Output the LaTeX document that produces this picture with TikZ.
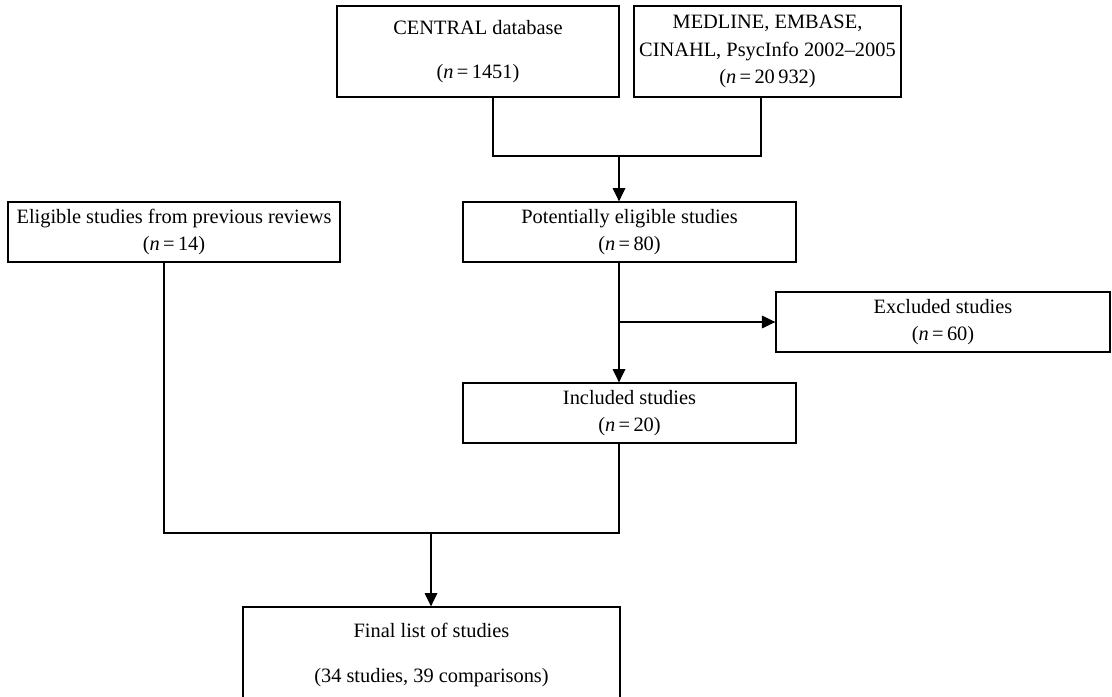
\documentclass[tikz,border=0pt]{standalone}
\usepackage{fontspec}
\setmainfont{Liberation Serif}
\usetikzlibrary{arrows.meta}
\tikzset{
	box/.style={draw,inner sep=0pt,align=center,font=\fontsize{14.5}{19.5}\selectfont},
}
\newcommand{\ncount}[1]{(\textit{n}\,=\,#1)}
\begin{document}
\begin{tikzpicture}[x=0.025cm,y=-0.025cm,line width=0.9pt,>={Triangle[length=9.5pt,width=9pt]}]
	\useasboundingbox (0,0) rectangle (1112,697);
	\node[box,minimum width=7.05cm,minimum height=2.275cm] (central) at (478,51.5) {CENTRAL database\\[12pt]\ncount{1451}};
	\node[box,minimum width=6.675cm,minimum height=2.275cm] (medline) at (767.5,51.5) {MEDLINE, EMBASE,\\CINAHL, PsycInfo 2002--2005\\\ncount{20\,932}};
	\node[box,minimum width=8.3cm,minimum height=1.5cm] (eligible) at (174,232) {Eligible studies from previous reviews\\\ncount{14}};
	\node[box,minimum width=8.325cm,minimum height=1.5cm] (potential) at (629.5,232) {Potentially eligible studies\\\ncount{80}};
	\node[box,minimum width=8.35cm,minimum height=1.5cm] (excluded) at (943,322) {Excluded studies\\\ncount{60}};
	\node[box,minimum width=8.325cm,minimum height=1.5cm] (included) at (629.5,413) {Included studies\\\ncount{20}};
	\node[box,minimum width=9.425cm,minimum height=2.4cm] (final) at (431.5,655) {Final list of studies\\[12pt](34 studies, 39 comparisons)};
	\coordinate (c1) at (493,156);
	\coordinate (m1) at (761,156);
	\coordinate (merge) at (619,156);
	\coordinate (split) at (619,322);
	\coordinate (e1) at (164,533);
	\coordinate (i1) at (619,533);
	\coordinate (join) at (431,533);
	\draw (central.south -| c1) -- (c1) -- (m1) -- (medline.south -| m1);
	\draw[->] (merge) -- (potential.north -| merge);
	\draw[->] (potential.south -| merge) -- (included.north -| merge);
	\draw[->] (split) -- (excluded.west);
	\draw (eligible.south -| e1) -- (e1) -- (i1) -- (included.south -| i1);
	\draw[->] (join) -- (final.north -| join);
\end{tikzpicture}
\end{document}
